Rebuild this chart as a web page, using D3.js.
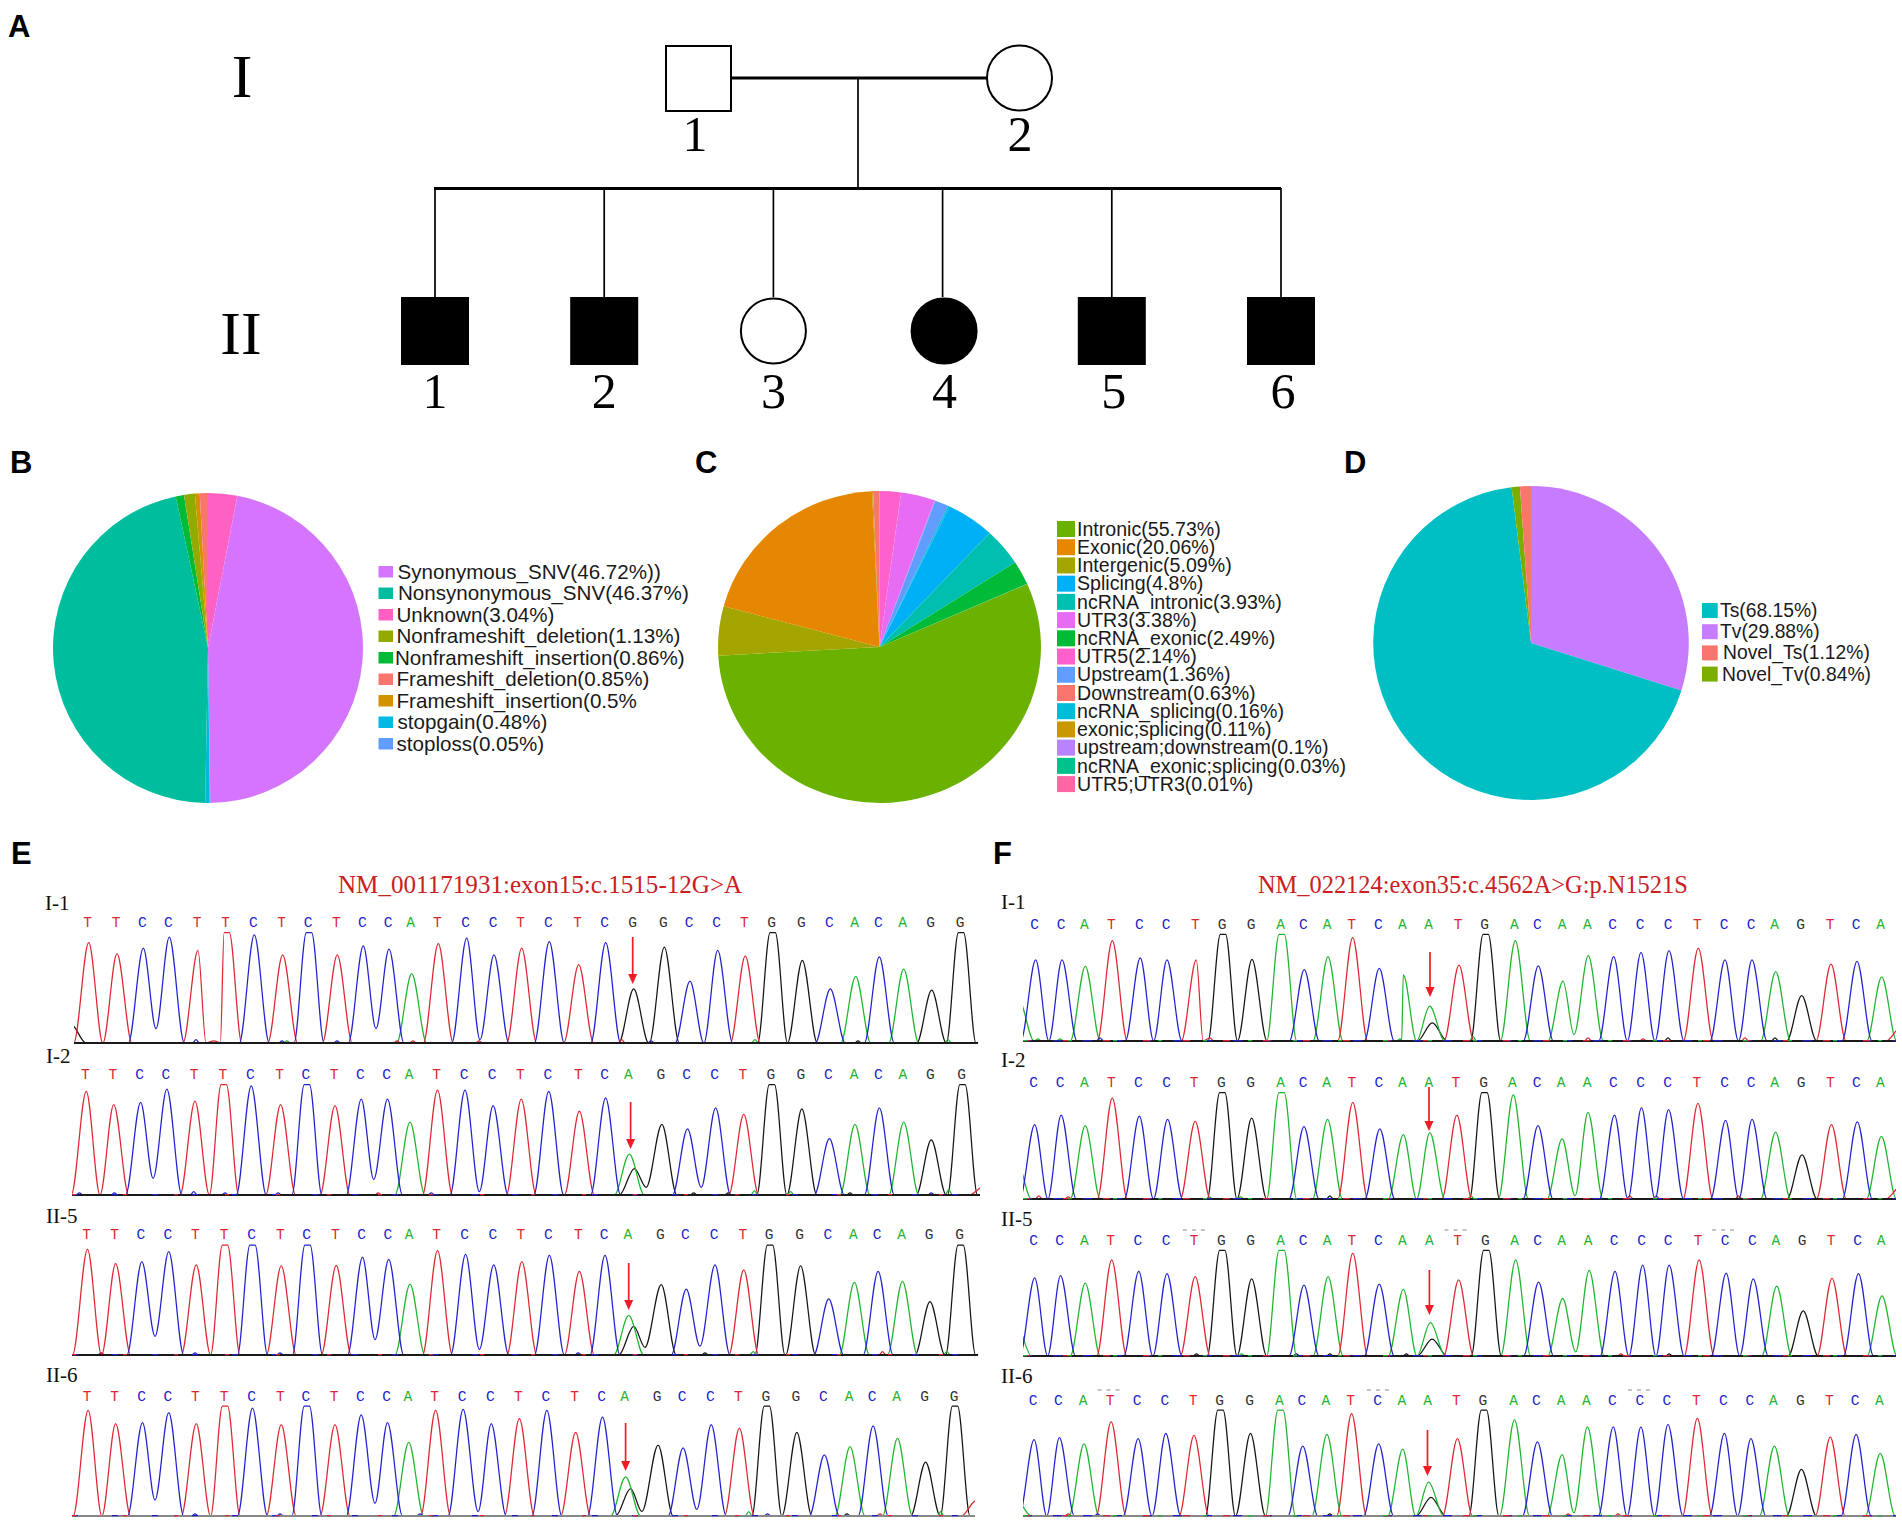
<!DOCTYPE html>
<html><head><meta charset="utf-8">
<script src="https://cdn.jsdelivr.net/npm/d3@7"></script>
<style>html,body{margin:0;padding:0;background:#fff}svg{display:block}</style>
</head><body><div id="chart"></div>
<script>
// ---------- Panel A: pedigree ----------
const gen2Ids = ["1","2","3","4","5","6"];
const gen2Shape = ["square","square","circle","circle","square","square"];
const gen2Affected = [true,true,false,true,true,true];

// ---------- Panels B, C, D: pies ----------
const labelsB = ["Synonymous_SNV(46.72%))","Nonsynonymous_SNV(46.37%)","Unknown(3.04%)","Nonframeshift_deletion(1.13%)","Nonframeshift_insertion(0.86%)","Frameshift_deletion(0.85%)","Frameshift_insertion(0.5%","stopgain(0.48%)","stoploss(0.05%)"];
const valuesB = [46.72,46.37,3.04,1.13,0.86,0.85,0.5,0.48,0.05];
const colorsB = ["#D575FE","#00BE9D","#FF61C3","#93AA00","#00BA38","#F8766D","#D39200","#00B9E3","#619CFF"];
const orderB = [2,0,8,7,1,4,3,6,5];

const labelsC = ["Intronic(55.73%)","Exonic(20.06%)","Intergenic(5.09%)","Splicing(4.8%)","ncRNA_intronic(3.93%)","UTR3(3.38%)","ncRNA_exonic(2.49%)","UTR5(2.14%)","Upstream(1.36%)","Downstream(0.63%)","ncRNA_splicing(0.16%)","exonic;splicing(0.11%)","upstream;downstream(0.1%)","ncRNA_exonic;splicing(0.03%)","UTR5;UTR3(0.01%)"];
const valuesC = [55.73,20.06,5.09,4.8,3.93,3.38,2.49,2.14,1.36,0.63,0.16,0.11,0.1,0.03,0.01];
const colorsC = ["#6BB100","#E58700","#A3A500","#00B0F6","#00BFB0","#E76BF3","#00BA38","#FF61CC","#619CFF","#F8766D","#00BCD8","#C99800","#B983FF","#00C08B","#FF67A4"];
const orderC = [7,14,5,12,8,10,3,4,6,13,0,2,1,11,9];

const labelsD = ["Ts(68.15%)","Tv(29.88%)","Novel_Ts(1.12%)","Novel_Tv(0.84%)"];
const valuesD = [68.15,29.88,1.12,0.84];
const colorsD = ["#00BFC4","#C77CFF","#F8766D","#7CAE00"];
const orderD = [1,0,3,2];

// ---------- Panels E, F: chromatograms (peak position, peak height 0-100) ----------
const seqE = "TTCCTTCTCTCCATCCTCTCAGCCTGGCACAGG".split("");
const seqF = "CCATCCTGGACATCAATGACAACCCTCCAGTCA".split("");

const posE1 = [88.7,117,143.3,169.3,198,226.7,254.3,282.7,309,337.3,363.3,389,411.7,438.3,466.7,494,521.7,549.3,578.7,605.7,633.7,664.3,690,717.7,745.3,772.7,802.3,830.3,855.7,879.3,903.7,931.7,961];
const ampE1 = [91,81,86,96,84,100,98,80,100,80,88,85,63,90,95,80,86,92,71,91,49,87,56,84,79,100,75,49,60.5,78,67,48,100];
const posE2 = [138,182,225,267,312,358,402,449,491,536,578,620,656,700,744,789,834,878,927,969,1007,1059,1100,1145,1190,1235,1283,1327,1368,1407,1446,1490,1540];
const ampE2 = [94,82,84,96,85,100,99,82,100,81,87,87,66,95,95,81,87,94,76,88,37,64,60,79,73,100,78,51,64,79,66,50,100];
const posE3 = [140,185,227,270,314,360,404,450,492,538,580,622,656,700,745,790,835,879,927,968,1006,1058,1098,1144,1190,1232,1281,1326,1367,1405,1444,1488,1537];
const ampE3 = [96,83,85,94,82,100,100,81,100,81.5,89,87,64.5,95,91.5,82,85,90.5,76,90.5,36,64,60,82,77.5,100,81,51,66,76,67,48.5,100];
const posE4 = [141,185,228,270,314,360,404,450,491,536,578,620,654,697,741,786,831,875,921,964,1001,1053,1093,1138,1183,1227,1275,1319,1360,1397,1436,1481,1528];
const ampE4 = [96,84,85,94,84,100,98,83,100,83,92,85,67,96,97,84,88.5,96,76,90,35.5,64.5,62,83,80,100,76,55.5,63,82,70.5,49,100];

const posF1 = [1035.7,1062,1085.3,1112.3,1140.3,1167,1196.3,1223,1252,1281.7,1304.3,1328,1352.7,1379.3,1403.3,1429.7,1459,1485.7,1515.3,1538.3,1563,1588.3,1613.7,1641,1669,1698.3,1725,1752,1775.7,1801.7,1831,1857,1881.7];
const ampF1 = [76,76,70,94,78,76,76,100,76.5,100,67,79,97,68,62,32.6,71,100,94,70.5,56,80,79,83,84.6,87,76,76,65,42.6,72,74.6,60];
const posF2 = [93,138,179,225,271,319,366,412,462,513,551,591,634,680,720,765,811,858,907,949,990,1034,1079,1125,1171,1221,1268,1313,1353,1398,1448,1492,1533];
const ampF2 = [70,79,69,95,78,75,73,100,76,100,68,75,91,66,60.6,62.5,79,100,98,69,56.6,81.6,79,86,84,90,74,75,63,41.6,70,72.5,59];
const posF3 = [93,137,179,224,270,318,366,412,462,513,551,592,634,679,720,766,814,861,911,950,991,1036,1080,1127,1172,1223,1269,1315,1355,1400,1449,1494,1534];
const ampF3 = [74,76,69,91,80,78,75,100,73,100,67,75,97,68,63,31.5,72,100,91,70,54.6,81,80,86,86,91,78.5,73,66,42.6,73.5,78,57];
const posF4 = [92,135,177,223,269,316,364,409,460,511,549,590,632,678,719,763,812,857,909,948,990,1033,1077,1124,1170,1220,1266,1311,1351,1397,1446,1490,1531];
const ampF4 = [72,74,68,89,73,78,76,100,78,100,66,77,96.5,68,63,32,73,100,91,70,58,84,84,84,86.5,92,78,73,66,44,74.5,77,59];

// secondary (heterozygous) G peak at the arrow: [position, height]
const hetE2 = [1015,24], hetE3 = [1014,26], hetE4 = [1009,25];
const hetF1 = [1432.3,17], hetF3 = [769,16], hetF4 = [767,17.6];

// non-zero valleys between neighbouring peaks of one channel: [position, height]
const valleysE1 = [[156,13],[376,13],[480,3]];
const valleysE2 = [[245,15],[598,14],[767,3],[1122,7],[1034,7]];
const valleysE3 = [[248,17],[600,14],[767,5],[1120,8],[1032,7]];
const valleysE4 = [[248,14.5],[600,11.5],[765,4],[1115,6],[1027,4]];
const valleysF1 = [[1574,6]];
const valleysF2 = [[1012,3]];
const valleysF3 = [[1013,4]];
const valleysF4 = [[1010,3]];

// small baseline blips: [position, channel, height]
const blipsE1 = [[196,"C",3],[214,"T",2],[282,"C",2],[287,"A",2],[337,"C",2],[397,"T",2],[413,"T",2],[479,"T",2],[621.7,"T",3],[651,"C",2],[755,"A",3],[858,"G",2],[948,"A",3]];
const blipsE2 = [[127,"C",2],[183,"C",2],[310,"C",3],[360,"C",2],[445,"C",2],[605,"T",2],[690,"C",2],[1110,"G",2],[1165,"G",2],[1207,"A",4],[1265,"A",3],[1360,"G",2],[1490,"C",2],[1518,"A",5]];
const blipsE3 = [[162,"G",2],[312,"C",2],[448,"C",2],[925,"C",2],[1128,"G",2],[1205,"A",3],[1412,"T",3],[1515,"A",3]];
const blipsE4 = [[312,"C",2],[448,"C",2],[672,"C",2],[1198,"A",4],[1228,"C",2],[1355,"G",2],[1408,"T",2],[1505,"A",4]];
const blipsF1 = [[1100,"C",3],[1038,"A",2],[1060,"A",2],[1210,"T",3],[1400,"A",2],[1473,"A",4],[1588,"T",3],[1643,"T",2],[1668,"G",3],[1745,"T",3],[1775,"G",3]];
const blipsF2 = [[100,"T",3],[150,"T",2],[390,"A",2],[443,"A",2],[595,"G",3],[835,"A",3],[1105,"T",3],[1150,"T",3],[1290,"T",3]];
const blipsF3 = [[368,"G",2],[445,"A",2],[538,"G",2],[595,"G",2],[725,"G",2],[1090,"T",2],[1172,"G",2]];
const blipsF4 = [[150,"T",2],[200,"C",2],[595,"G",2],[1000,"T",2],[1085,"T",2]];

// part peaks cut by the left / right edge of a trace: [position, channel, height]
const edgeE1 = [[71,"G",17]];
const edgeE2 = [[1575,"T",8]];
const edgeE4 = [[1562,"T",14]];
const edgeF1 = [[1019,"A",38],[1901,"T",13]];
const edgeF2 = [[62,"A",37],[1566,"T",12]];
const edgeF3 = [[62,"A",30]];
const edgeF4 = [[62,"A",15]];

const rowsE = [
 {name:"I-1",pos:posE1,amp:ampE1,het:null,val:valleysE1,blip:blipsE1,edge:edgeE1,refG:true},
 {name:"I-2",pos:posE2,amp:ampE2,het:hetE2,val:valleysE2,blip:blipsE2,edge:edgeE2},
 {name:"II-5",pos:posE3,amp:ampE3,het:hetE3,val:valleysE3,blip:blipsE3,edge:[]},
 {name:"II-6",pos:posE4,amp:ampE4,het:hetE4,val:valleysE4,blip:blipsE4,edge:edgeE4}];
const rowsF = [
 {name:"I-1",pos:posF1,amp:ampF1,het:hetF1,val:valleysF1,blip:blipsF1,edge:edgeF1},
 {name:"I-2",pos:posF2,amp:ampF2,het:null,val:valleysF2,blip:blipsF2,edge:edgeF2},
 {name:"II-5",pos:posF3,amp:ampF3,het:hetF3,val:valleysF3,blip:blipsF3,edge:edgeF3},
 {name:"II-6",pos:posF4,amp:ampF4,het:hetF4,val:valleysF4,blip:blipsF4,edge:edgeF4}];

// ---------- Layout ----------
const W=1902,H=1524;
const svg=d3.select("#chart").append("svg").attr("width",W).attr("height",H).attr("viewBox",`0 0 ${W} ${H}`);
svg.append("rect").attr("width",W).attr("height",H).attr("fill","#fff");
const SANS="'Liberation Sans',Arial,sans-serif", SERIF="'Liberation Serif','Times New Roman',serif", MONO="'Liberation Mono',monospace";

// panel letters
[["A",8,37],["B",10,473],["C",695,473],["D",1344,473],["E",11,864],["F",993,864]].forEach(([t,x,y])=>{
  svg.append("text").text(t).attr("x",x).attr("y",y).attr("font-family",SANS).attr("font-weight","bold").attr("font-size",31).attr("fill","#000");
});

// ---------- Pedigree ----------
(function(){
  const g=svg.append("g").attr("class","pedigree");
  const x2=d3.scalePoint().domain(gen2Ids).range([435,1281]);
  const ln=(a,b,c,d,w)=>g.append("line").attr("x1",a).attr("y1",b).attr("x2",c).attr("y2",d).attr("stroke","#000").attr("stroke-width",w);
  const num=(t,x,y,s)=>g.append("text").text(t).attr("x",x).attr("y",y).attr("text-anchor","middle").attr("font-family",SERIF).attr("font-size",s).attr("fill","#000");
  ln(731,78,987,78,3);
  ln(858,78,858,189,1.7);
  ln(434,188.5,1281,188.5,3);
  g.append("rect").attr("x",666).attr("y",46).attr("width",65).attr("height",65).attr("fill","#fff").attr("stroke","#000").attr("stroke-width",2);
  g.append("circle").attr("cx",1019.5).attr("cy",78).attr("r",32.5).attr("fill","#fff").attr("stroke","#000").attr("stroke-width",2);
  num("1",695,151,50); num("2",1020,151,50);
  gen2Ids.forEach((id,i)=>{
    const cx=x2(id);
    ln(cx,188,cx,297,1.7);
    const fill=gen2Affected[i]?"#000":"#fff";
    if(gen2Shape[i]==="square") g.append("rect").attr("x",cx-34).attr("y",297).attr("width",68).attr("height",68).attr("fill",fill);
    else g.append("circle").attr("cx",cx+(gen2Affected[i]?1.5:0)).attr("cy",331).attr("r",32.5).attr("fill",fill).attr("stroke","#000").attr("stroke-width",2);
    num(id,cx+(i>2?2:0),408,50);
  });
  num("I",242,97,62); num("II",241,354,62);
})();

// ---------- Pies ----------
function drawPie(cfg){
  const g=svg.append("g").attr("transform",`translate(${cfg.cx},${cfg.cy}) scale(${cfg.sx},1)`);
  const arc=d3.arc().innerRadius(0).outerRadius(cfg.r);
  const order=cfg.order;
  const arcs=d3.pie().sort(null).startAngle(0).endAngle(2*Math.PI).value(i=>cfg.values[i])(order);
  g.selectAll("path").data(arcs).join("path").attr("d",arc).attr("fill",d=>cfg.colors[d.data]);
  const leg=svg.append("g");
  const row=d3.scaleLinear().domain([0,1]).range([cfg.ly,cfg.ly+cfg.pitch]);
  cfg.labels.forEach((t,i)=>{
    leg.append("rect").attr("x",cfg.lx).attr("y",row(i)).attr("width",cfg.sw).attr("height",cfg.sh).attr("fill",cfg.colors[i]);
    leg.append("text").text(t).attr("x",cfg.tx+(cfg.dx?cfg.dx[i]:0)).attr("y",row(i)+cfg.sh/2+cfg.fs*0.34)
       .attr("font-family",SANS).attr("font-size",cfg.fs).attr("fill","#1a1a1a");
  });
}
drawPie({cx:208,cy:648,sx:1,r:155,values:valuesB,colors:colorsB,order:orderB,labels:labelsB,lx:378.5,ly:566,pitch:21.5,sw:14.5,sh:11.5,tx:396.5,fs:20.6,dx:[1,1.5,0,0,-1.5,0,0,1,0]});
drawPie({cx:879.5,cy:647,sx:1.035,r:156,values:valuesC,colors:colorsC,order:orderC,labels:labelsC,lx:1057,ly:521,pitch:18.22,sw:18,sh:16,tx:1077,fs:19.6});
drawPie({cx:1531,cy:643,sx:1.005,r:157,values:valuesD,colors:colorsD,order:orderD,labels:labelsD,lx:1702,ly:603,pitch:21.2,sw:15.7,sh:15,tx:1720,fs:19.3,dx:[0,0,3,2]});

// ---------- Chromatograms ----------
const chColor={T:"#DC2830",C:"#2222CC",A:"#1FB52F",G:"#151515"};
const chOrder=["G","A","T","C"];
function drawTrace(row,seq,o){
  const xs=d3.scaleLinear().domain(o.domain).range(o.range);
  const ys=d3.scaleLinear().domain([0,100]).range([o.base,o.top]);
  const k=Math.abs((o.range[1]-o.range[0])/(o.domain[1]-o.domain[0]));
  const w=15/k, fl=2.6/k;
  const g=svg.append("g");
  const cid="clip"+o.id;
  svg.append("clipPath").attr("id",cid).append("rect").attr("x",o.range0).attr("y",o.top-2).attr("width",o.range1-o.range0).attr("height",o.base-o.top+4);
  const tg=g.append("g").attr("clip-path",`url(#${cid})`);
  const peaks=[];
  row.pos.forEach((x,i)=>{
    let c=seq[i];
    if(row.refG&&o.arrowIdx===i) c="G";
    peaks.push({x,h:row.amp[i],c,w});
  });
  if(row.het) peaks.push({x:row.het[0],h:row.het[1],c:"G",w});
  row.blip.forEach(b=>peaks.push({x:b[0],h:b[2],c:b[1],w:3.5/k}));
  row.edge.forEach(b=>peaks.push({x:b[0],h:b[2],c:b[1],w}));
  const line=d3.line().x(d=>xs(d.x)).y(d=>ys(d.y)).curve(d3.curveMonotoneX);
  const near=2.6*w;
  const valleyBetween=(a,b)=>(a.h>10&&b.h>10&&b.x-a.x<near)?row.val.find(v=>v[0]>a.x&&v[0]<b.x):null;
  chOrder.forEach(ch=>{
    const P=peaks.filter(p=>p.c===ch).sort((a,b)=>a.x-b.x);
    const pts=[{x:o.domain[0]-50,y:0}];
    P.forEach((p,i)=>{
      const prev=P[i-1], next=P[i+1];
      const vPrev=prev&&valleyBetween(prev,p);
      if(!vPrev){
        if(!(prev&&p.x-prev.x<prev.w+p.w)) pts.push({x:p.x-p.w,y:0});
      }
      if(p.h>=100){pts.push({x:p.x-fl,y:100});pts.push({x:p.x+fl,y:100});}
      else pts.push({x:p.x,y:p.h});
      const vNext=next&&valleyBetween(p,next);
      if(vNext) pts.push({x:vNext[0],y:vNext[1]});
      else if(next&&next.x-p.x<p.w+next.w) pts.push({x:(p.x+next.x)/2,y:0});
      else pts.push({x:p.x+p.w,y:0});
    });
    pts.push({x:o.domain[1]+50,y:0});
    tg.append("path").attr("d",line(pts)).attr("fill","none").attr("stroke",chColor[ch]).attr("stroke-width",1.25).attr("stroke-linejoin","round");
  });
  // baseline with coloured dashes, over the trace feet
  tg.append("line").attr("x1",o.range0).attr("x2",o.range1).attr("y1",o.base).attr("y2",o.base).attr("stroke",o.baseColor||"#1a1a1a").attr("stroke-width",1.8);
  (o.dashes||[]).forEach(([c,da])=>{
    tg.append("line").attr("x1",o.range0).attr("x2",o.range1).attr("y1",o.base-.4).attr("y2",o.base-.4).attr("stroke",chColor[c]).attr("stroke-width",1.4).attr("stroke-dasharray",da);
  });
  row.pos.forEach((x,i)=>{
    const c=(row.refG&&o.arrowIdx===i)?"G":seq[i];
    g.append("text").text(c).attr("x",xs(x)-1).attr("y",o.letterY).attr("text-anchor","middle")
      .attr("font-family",MONO).attr("font-size",14.5).attr("fill",c==="G"?"#333":chColor[c]);
  });
  svg.append("text").text(row.name).attr("x",o.labelX).attr("y",o.labelY).attr("font-family",SERIF).attr("font-size",21).attr("fill","#111");
  const a=o.arrow;
  g.append("line").attr("x1",a[0]).attr("x2",a[0]).attr("y1",a[1]).attr("y2",a[2]-6).attr("stroke","#EE1C25").attr("stroke-width",1.7);
  g.append("path").attr("d",`M${a[0]-4.5},${a[2]-10}L${a[0]+4.5},${a[2]-10}L${a[0]},${a[2]}Z`).attr("fill","#EE1C25");
}
const LX=[0,1568];
const dashE=[["C","6 34"],["T","4 47"]], dashF=[["C","9 21"],["T","7 33"],["A","4 41"]];
drawTrace(rowsE[0],seqE,{id:"e1",domain:[0,1000],range:[0,1000],range0:74,range1:978,base:1043,top:932.7,letterY:927,labelX:45,labelY:910,arrowIdx:20,arrow:[632.7,937,984]});
drawTrace(rowsE[1],seqE,{id:"e2",domain:LX,range:[0,980],range0:72,range1:980,base:1195,top:1084.7,letterY:1079,labelX:46,labelY:1063,arrowIdx:20,arrow:[630.6,1102,1149],dashes:dashE});
drawTrace(rowsE[2],seqE,{id:"e3",domain:LX,range:[0,980],range0:72,range1:978,base:1355,top:1245,letterY:1239,labelX:46,labelY:1223,arrowIdx:20,arrow:[628.7,1263,1310],dashes:dashE});
drawTrace(rowsE[3],seqE,{id:"e4",domain:LX,range:[0,980],range0:72,range1:975,base:1516,top:1406,letterY:1401,labelX:46,labelY:1382,arrowIdx:20,arrow:[625.6,1423,1471],baseColor:"#888",dashes:dashE});
drawTrace(rowsF[0],seqF,{id:"f1",domain:[0,2000],range:[0,2000],range0:1023,range1:1896,base:1041,top:934.3,letterY:929,labelX:1001,labelY:909,arrowIdx:15,arrow:[1430,952,997],dashes:dashF});
const FR=[980,1902];
drawTrace(rowsF[1],seqF,{id:"f2",domain:LX,range:FR,range0:1023,range1:1896,base:1199,top:1092.7,letterY:1087,labelX:1001,labelY:1067,arrowIdx:15,arrow:[1429,1087,1131],dashes:dashF});
drawTrace(rowsF[2],seqF,{id:"f3",domain:LX,range:FR,range0:1023,range1:1896,base:1356,top:1250.3,letterY:1245,labelX:1001,labelY:1226,arrowIdx:15,arrow:[1429.4,1270,1315],dashes:dashF});
drawTrace(rowsF[3],seqF,{id:"f4",domain:LX,range:FR,range0:1023,range1:1896,base:1516,top:1410,letterY:1405,labelX:1001,labelY:1383,arrowIdx:15,arrow:[1427.5,1430,1476],baseColor:"#888",dashes:dashF});

// grey dashes above some letters in panel F
const dashF3=[345,790,1245], dashF4=[200,658,1102];
const xF=d3.scaleLinear().domain(LX).range(FR);
[[dashF3,1230],[dashF4,1390]].forEach(([arr,y])=>arr.forEach(s=>{
  svg.append("line").attr("x1",xF(s)).attr("x2",xF(s+38)).attr("y1",y).attr("y2",y).attr("stroke","#888").attr("stroke-width",1).attr("stroke-dasharray","4 5");
}));

// titles
[["NM_001171931:exon15:c.1515-12G>A",338,893,25.1],["NM_022124:exon35:c.4562A>G:p.N1521S",1258,893,24.4]].forEach(([t,x,y,s])=>{
  svg.append("text").text(t).attr("x",x).attr("y",y).attr("font-family",SERIF).attr("font-size",s).attr("fill","#C9211E");
});
</script></body></html>
